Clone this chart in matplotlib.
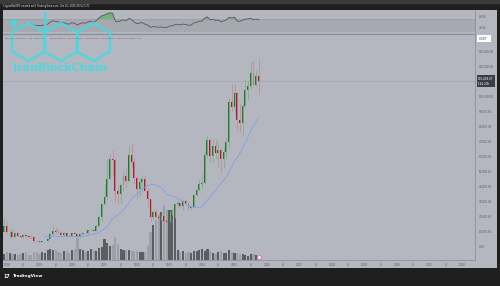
import numpy as np
import matplotlib
matplotlib.use('Agg')
import matplotlib.pyplot as plt
import matplotlib.transforms as mtransforms
from matplotlib.patches import RegularPolygon, Rectangle

# BTC/USDT monthly candles, Aug 2017 .. Oct 2025
opens = [4261, 4690, 4341, 6463, 9838,
         13715, 10285, 10325, 6922, 9246, 7485, 6391, 7735, 7011, 6626, 6370, 4041,
         3742, 3434, 3814, 4102, 5321, 8555, 10855, 10085, 9596, 8289, 9140, 7540,
         7195, 9351, 8523, 6412, 8620, 9448, 9138, 11335, 11649, 10776, 13791, 19695,
         28923, 33092, 45134, 58739, 57697, 37254, 35045, 41461, 47100, 43821, 61300, 56951,
         46216, 38466, 43160, 45510, 37631, 31801, 19942, 23296, 20050, 19423, 20491, 17165,
         16541, 23125, 23142, 28465, 29233, 27211, 30472, 29232, 25940, 26962, 34640, 37723,
         42284, 42580, 61131, 71280, 60672, 67540, 62678, 64620, 58974, 63328, 70215, 96408,
         93577, 102430, 84350, 82550, 94172, 104592, 107136, 115764, 108246, 114048.94]
highs = [4745, 4939, 6470, 11300, 19798,
         17176, 11786, 11710, 9765, 10020, 7780, 8507, 7750, 7410, 7680, 6615, 4310,
         4143, 4210, 4140, 5600, 9074, 13970, 13147, 12325, 10905, 10370, 9513, 7750,
         9578, 10500, 9188, 9460, 10067, 10380, 11444, 12468, 12050, 14100, 19863, 29300,
         41950, 58352, 61844, 64854, 59500, 41330, 42448, 50500, 52920, 67000, 69000, 59054,
         47990, 45821, 48190, 47444, 39845, 31982, 24668, 25211, 22799, 21085, 21480, 18387,
         23960, 25250, 29184, 31000, 29820, 31390, 31804, 30244, 27483, 35280, 38450, 44700,
         48970, 64000, 73778, 72797, 71980, 71997, 70016, 65660, 66498, 73620, 99588, 108353,
         109588, 102750, 95000, 95758, 111980, 110530, 123218, 124474, 117900, 126199.63]
lows = [3400, 2817, 4110, 5325, 10800,
        9035, 6000, 6600, 6430, 7032, 5750, 6070, 5880, 6111, 6205, 3652, 3156,
        3349, 3400, 3670, 4067, 5286, 7444, 9011, 9320, 7710, 7300, 6515, 6435,
        6871, 8445, 3782, 6150, 8117, 8833, 8893, 10518, 9825, 10374, 13195, 17572,
        28130, 32296, 45000, 47044, 30000, 28805, 29278, 37332, 39600, 43283, 53256, 42000,
        32917, 34322, 37155, 37578, 26700, 17622, 18782, 19520, 18125, 18190, 15476, 16256,
        16500, 21351, 19549, 26942, 25811, 24800, 28861, 25166, 24901, 26538, 34097, 37630,
        38555, 41884, 59005, 56552, 56500, 58403, 53485, 49000, 52550, 58900, 66835, 90500,
        89256, 78258, 76606, 74508, 93377, 98200, 105100, 107350, 107255, 102000.00]
closes = [4724, 4378, 6463, 9838, 13716,
          10285, 10326, 6923, 9246, 7485, 6391, 7730, 7011, 6626, 6372, 4041, 3742,
          3434, 3814, 4103, 5321, 8555, 10855, 10085, 9596, 8289, 9140, 7541, 7195,
          9352, 8523, 6410, 8624, 9448, 9138, 11335, 11649, 10776, 13791, 19695, 28924,
          33092, 45135, 58740, 57694, 37253, 35045, 41462, 47101, 43824, 61300, 56951, 46216,
          38466, 43160, 45510, 37630, 31801, 19942, 23293, 20050, 19423, 20491, 17164, 16542,
          23125, 23142, 28465, 29233, 27210, 30472, 29232, 25940, 26962, 34639, 37723, 42283,
          42580, 61131, 71280, 60672, 67540, 62678, 64620, 58974, 63327, 70215, 96407, 93576,
          102430, 84350, 82548, 94172, 104591, 107135, 115764, 108246, 114049, 110438.07]
# monthly volume, thousand BTC
volumes = [100, 200, 300, 450, 600,
           800, 700, 600, 650, 550, 600, 750, 800, 550, 500, 800, 850,
           650, 800, 750, 1000, 1100, 1000, 1000, 800, 700, 900, 900, 700,
           1000, 1100, 2200, 1100, 1000, 800, 900, 1100, 1000, 900, 1200, 1300,
           2100, 1700, 1400, 1500, 2300, 1600, 1100, 1000, 1000, 1000, 900, 900,
           900, 850, 850, 800, 1400, 2800, 3500, 4000, 4500, 4800, 5500, 5000,
           5000, 5000, 5200, 1000, 800, 900, 700, 800, 700, 900, 950, 1000,
           1100, 900, 1100, 900, 750, 650, 800, 900, 700, 750, 1050, 850,
           700, 750, 650, 600, 550, 450, 600, 600, 500, 450]
first_month = -5  # Aug 2017, Jan 2018 = 0

x_labels = ['2018', 'Jul', '2019', 'Jul', '2020', 'Jul', '2021', 'Jul', '2022', 'Jul',
            '2023', 'Jul', '2024', 'Jul', '2025', 'Jul', '2026', 'Jul', '2027', 'Jul',
            '2028', 'Jul', '2029', 'Jul', '2030', 'Jul', '2031', 'Jul', '2032']
price_ticks = [0, 10000, 20000, 30000, 40000, 50000, 60000, 70000, 80000, 90000,
               100000, 120000, 130000]
rsi_ticks = [40, 80]

W, H = 500, 286
PANEL = '#b5b7c0'
BAND = '#a7a9b1'
UP, DOWN = '#1f7a30', '#a1202c'
UP_WICK, DOWN_WICK = '#86ab8f', '#c48b92'
TXT = '#565962'
FS = 2.0


def rect(x0, y0, x1, y1):
    return [x0 / W, 1 - y1 / H, (x1 - x0) / W, (y1 - y0) / H]


o = np.array(opens, float)
h = np.array(highs, float)
l = np.array(lows, float)
c = np.array(closes, float)
v = np.array(volumes, float)
x = np.arange(len(c)) + first_month
up = c >= o

# 20 period SMA
sma = np.full(len(c), np.nan)
for i in range(19, len(c)):
    sma[i] = c[i - 19:i + 1].mean()

# RSI 14 (Wilder)
d = np.diff(c)
gain = np.where(d > 0, d, 0.0)
loss = np.where(d < 0, -d, 0.0)
rsi = np.full(len(c), np.nan)
ag, al = gain[:14].mean(), loss[:14].mean()
rsi[14] = 100 - 100 / (1 + ag / al)
for i in range(14, len(d)):
    ag = (ag * 13 + gain[i]) / 14
    al = (al * 13 + loss[i]) / 14
    rsi[i + 1] = 100 - 100 / (1 + ag / al)

fig = plt.figure(figsize=(W / 100, H / 100), dpi=100, facecolor='#1f1f1f')
fig.patches.append(Rectangle((0, 1 - 3 / H), 1, 3 / H, transform=fig.transFigure,
                             color='#3b3b3b', zorder=0))

bg = fig.add_axes(rect(3, 10, 497, 268))
bg.set_facecolor(PANEL)
bg.set_xticks([])
bg.set_yticks([])
for s in bg.spines.values():
    s.set_visible(False)

xlim = (-1.48, 172.8)

# RSI pane
ra = fig.add_axes(rect(3, 10, 475, 34))
ra.set_facecolor('none')
ra.set_xlim(xlim)
ra.set_ylim(18.5, 100.5)
ra.axhspan(30, 70, color=BAND, lw=0)
ra.axhline(70, color='#8e9098', lw=0.4, ls=(0, (3, 2)))
ra.axhline(30, color='#8e9098', lw=0.4, ls=(0, (3, 2)))
ra.plot(x, rsi, color='#55575e', lw=0.6)
ra.fill_between(x, rsi, 70, where=rsi > 70, interpolate=True, color='#62b565', alpha=0.85, lw=0)
ra.set_xticks([])
ra.yaxis.tick_right()
ra.set_yticks(rsi_ticks)
ra.set_yticklabels(['%.2f' % t for t in rsi_ticks])
ra.tick_params(axis='y', length=0, pad=2.5, labelsize=FS, labelcolor=TXT)
for s in ra.spines.values():
    s.set_visible(False)
ra.spines['right'].set_visible(True)
ra.spines['right'].set_color('#8d9099')
ra.spines['right'].set_linewidth(0.6)
ra.spines['bottom'].set_visible(True)
ra.spines['bottom'].set_color('#8d9099')
ra.spines['bottom'].set_linewidth(1.0)

# volume pane
va = fig.add_axes(rect(3, 35, 475, 260))
va.set_facecolor('none')
va.set_xlim(xlim)
va.set_ylim(0, 22500)
va.bar(x, v, width=0.8, color=np.where(up, '#5b5d63', '#9d9fa6'), lw=0)
va.axis('off')

# price pane
ax = fig.add_axes(rect(3, 35, 475, 260))
ax.set_facecolor('none')
ax.set_xlim(xlim)
ax.set_ylim(-8667, 141333)
ax.axhline(c[-1], color='#8a8c93', lw=0.4, ls=(0, (1, 1)))
ax.vlines(x, l, h, colors=np.where(up, UP_WICK, DOWN_WICK), lw=0.6)
ax.bar(x, np.abs(c - o), bottom=np.minimum(o, c), width=0.7,
       color=np.where(up, UP, DOWN), lw=0)
ax.plot(x, sma, color='#7d9fe6', lw=0.6)
ax.plot([x[-1]], [0.015], transform=mtransforms.blended_transform_factory(ax.transData, ax.transAxes),
        marker='o', ms=3.0, mfc='#f2f2f2', mec='#e07ad0', mew=0.8, clip_on=False)

ax.set_xticks(np.arange(len(x_labels)) * 6)
ax.set_xticklabels(x_labels)
ax.yaxis.tick_right()
ax.set_yticks(price_ticks)
ax.set_yticklabels(['{:,.2f}'.format(t) for t in price_ticks])
ax.tick_params(axis='both', length=0, labelsize=FS, labelcolor=TXT)
ax.tick_params(axis='y', pad=2.5)
ax.tick_params(axis='x', pad=2)
for s in ax.spines.values():
    s.set_visible(False)
for side in ('right', 'bottom'):
    ax.spines[side].set_visible(True)
    ax.spines[side].set_color('#8d9099')
    ax.spines[side].set_linewidth(0.6)

blend = mtransforms.blended_transform_factory(ax.transAxes, ax.transData)
ax.text(1.0 + 3 / 472, c[-1], '{:,.2f}\n15d 23h'.format(c[-1]), transform=blend,
        fontsize=FS, color='white', va='center', ha='left', linespacing=1.4,
        bbox=dict(boxstyle='square,pad=0.45', fc='#3a3d46', ec='none'))

# header texts
fig.text(3 / W, 1 - 6 / H, 'CryptoWolf99 created with TradingView.com, Oct 16, 2025 00:52 UTC',
         color='#e6e6e6', fontsize=1.8, va='center', ha='left')
fig.text(479 / W, 1 - 38.5 / H, 'USDT   ', color='#444', fontsize=FS, va='center', ha='left',
         bbox=dict(boxstyle='square,pad=0.7', fc='white', ec='none'))
fig.text(5 / W, 1 - 38 / H, 'Bitcoin / TetherUS \u00b7 1M \u00b7 Binance',
         color='#5a5d66', fontsize=1.7, va='center', ha='left')
fig.text(50 / W, 1 - 38 / H,
         'O{:,.2f}  H{:,.2f}  L{:,.2f}  C{:,.2f}  {:,.2f} ({:.2f}%)'.format(
             o[-1], h[-1], l[-1], c[-1], c[-1] - o[-1], (c[-1] - o[-1]) / o[-1] * 100
         ).replace('-', '\u2212'),
         color='#a8323c', fontsize=1.7, va='center', ha='left')
fig.text(3 / W, 1 - 276 / H, '17', color='white', fontsize=3.4, fontweight='bold',
         va='center', ha='left')
fig.text(13 / W, 1 - 276 / H, 'TradingView', color='white', fontsize=3.2,
         fontweight='bold', va='center', ha='left')

# IranBlockChain watermark
lg = fig.add_axes([0, 0, 1, 1])
lg.set_xlim(0, W)
lg.set_ylim(H, 0)
lg.axis('off')
cyan = '#43dbe0'
for cx in (28.5, 61, 93.5):
    lg.add_patch(RegularPolygon((cx, 42), 6, radius=19, orientation=0, fill=False,
                                ec=cyan, lw=1.8, alpha=0.85))
lg.plot([44.9, 44.9], [12, 33], color=cyan, lw=2.0, alpha=0.85, solid_capstyle='butt')
lg.add_patch(Rectangle((10.5, 19.5), 5, 5, color=cyan, alpha=0.85))
lg.text(60, 68, 'IranBlockChain', color=cyan, fontsize=8.0, fontweight='bold',
        ha='center', va='center', alpha=0.95)

fig.savefig('out.png', dpi=100, facecolor=fig.get_facecolor())
